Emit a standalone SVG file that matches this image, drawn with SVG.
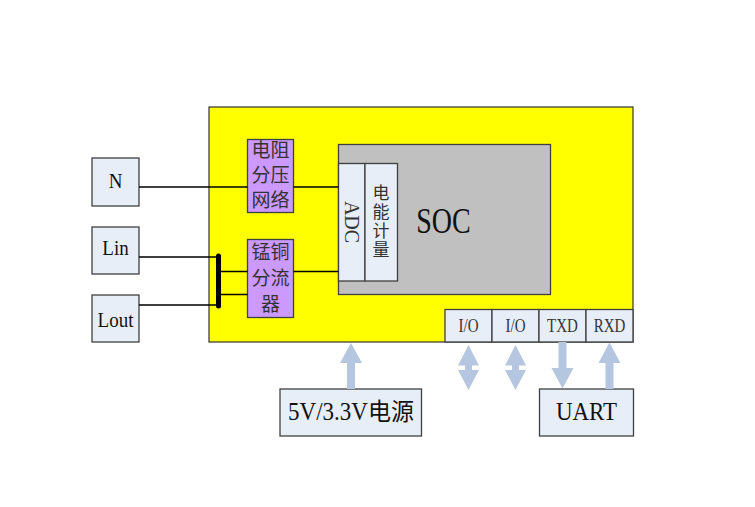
<svg xmlns="http://www.w3.org/2000/svg" width="755" height="507" viewBox="0 0 755 507">
<style>
.t{font-family:"Liberation Serif","Noto Sans CJK SC",serif;fill:#111;text-anchor:middle}
.c{font-family:"Liberation Serif","Noto Sans CJK SC",serif;fill:#333;text-anchor:middle;dominant-baseline:central}
.lb{fill:#e8eef7;stroke:#404040;stroke-width:1.3}
.pu{fill:#cc99ff;stroke:#404040;stroke-width:1.3}
.w{stroke:#000;stroke-width:1.5;fill:none}
.ar{fill:#b4c6e0}
.io{font-family:"Liberation Serif","Noto Sans CJK SC",serif;fill:#333;text-anchor:middle;font-size:15px}
</style>
<rect width="755" height="507" fill="#fff"/>
<g id="board">
<rect x="209" y="107" width="424" height="235" fill="#ffff00" stroke="#333" stroke-width="1.2"/>
</g>
<g id="soc">
<rect x="338.5" y="144.5" width="212" height="150" fill="#c0c0c0" stroke="#404040" stroke-width="1.3"/>
<text class="t" x="0" y="0" font-size="28" transform="translate(443.5,233) scale(1,1.3)">SOC</text>
</g>
<g id="adc">
<rect class="lb" x="338.5" y="163.5" width="26.5" height="117.5"/>
<text class="c" x="0" y="0" font-size="20" transform="translate(351.5,222) rotate(90)">ADC</text>
</g>
<g id="meter">
<rect class="lb" x="365" y="163.5" width="32.5" height="117.5"/>
<text class="c" x="381" y="193" font-size="17">电</text>
<text class="c" x="381" y="212" font-size="17">能</text>
<text class="c" x="381" y="231" font-size="17">计</text>
<text class="c" x="381" y="250" font-size="17">量</text>
</g>
<g id="divider">
<rect class="pu" x="247.5" y="139.5" width="46" height="73"/>
<text class="c" x="270.5" y="150" font-size="19">电阻</text>
<text class="c" x="270.5" y="175.5" font-size="19">分压</text>
<text class="c" x="270.5" y="200.5" font-size="19">网络</text>
</g>
<g id="shunt">
<rect class="pu" x="247.5" y="239.5" width="46" height="78"/>
<text class="c" x="270.5" y="252" font-size="19">锰铜</text>
<text class="c" x="270.5" y="278" font-size="19">分流</text>
<text class="c" x="270.5" y="304" font-size="19">器</text>
</g>
<g id="N">
<rect class="lb" x="92" y="158" width="47" height="48"/>
<text class="t" x="0" y="0" font-size="19" transform="translate(115.5,188) scale(1,1.15)">N</text>
</g>
<g id="Lin">
<rect class="lb" x="92" y="227" width="47" height="47"/>
<text class="t" x="0" y="0" font-size="19" transform="translate(115.5,255) scale(1,1.15)">Lin</text>
</g>
<g id="Lout">
<rect class="lb" x="92" y="295" width="47" height="47"/>
<text class="t" x="0" y="0" font-size="19" transform="translate(115.5,326.5) scale(1,1.15)">Lout</text>
</g>
<g id="io1">
<rect class="lb" x="445" y="309.5" width="47" height="32.5"/>
<text class="io" x="0" y="0" transform="translate(468.5,331.5) scale(1,1.2)">I/O</text>
</g>
<g id="io2">
<rect class="lb" x="492" y="309.5" width="47" height="32.5"/>
<text class="io" x="0" y="0" transform="translate(515.5,331.5) scale(1,1.2)">I/O</text>
</g>
<g id="txd">
<rect class="lb" x="539" y="309.5" width="47" height="32.5"/>
<text class="io" x="0" y="0" transform="translate(562.5,331.5) scale(1,1.2)">TXD</text>
</g>
<g id="rxd">
<rect class="lb" x="586" y="309.5" width="47" height="32.5"/>
<text class="io" x="0" y="0" transform="translate(609.5,331.5) scale(1,1.2)">RXD</text>
</g>
<g id="power">
<rect class="lb" x="280" y="389" width="141.5" height="47"/>
<text class="t" x="0" y="0" font-size="23" transform="translate(351,420) scale(1,1.05)">5V/3.3V电源</text>
</g>
<g id="uart">
<rect class="lb" x="539.5" y="389" width="94" height="47"/>
<text class="t" x="0" y="0" font-size="23" transform="translate(586.5,420) scale(1,1.1)">UART</text>
</g>
<g id="connectors">
<path class="w" d="M139 187H247.5M293.5 187H338.5"/>
<path class="w" d="M139 257H218M139 305H218M218 271.5H247.5M218 294.5H247.5M293.5 271.5H338.5"/>
<line x1="218.5" y1="256" x2="218.5" y2="306" stroke="#000" stroke-width="5" stroke-linecap="round"/>
<path class="ar" d="M351 343L362 363H355V389H347V363H340Z"/>
<path class="ar" d="M468.5 345L479 365.5H472V370H479L468.5 390L458 370H465V365.5H458Z"/>
<path class="ar" d="M515.5 345L526 365.5H519V370H526L515.5 390L505 370H512V365.5H505Z"/>
<path class="ar" d="M558.5 342H566.5V368H573.5L562.5 388.5L551.5 368H558.5Z"/>
<path class="ar" d="M609.5 342.5L620.5 363H613.5V389H605.5V363H598.5Z"/>
</g>
</svg>
